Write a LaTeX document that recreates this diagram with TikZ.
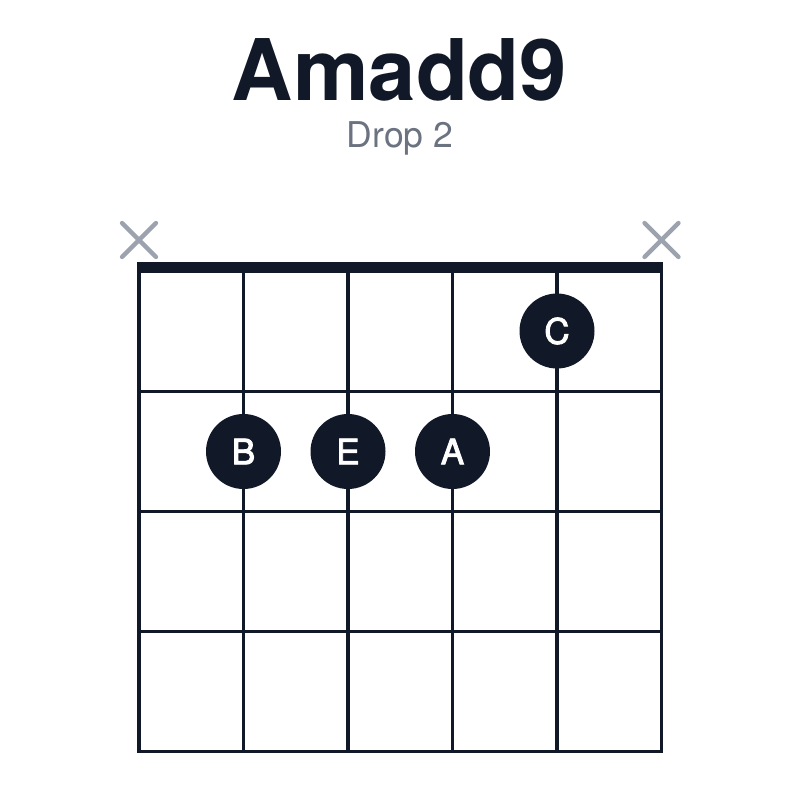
\documentclass[tikz,border=0pt]{standalone}
\usepackage{fontspec}
\setmainfont{TeX Gyre Heros}
\newfontfamily\dotfont[FakeBold=2.6]{TeX Gyre Heros}
\definecolor{ink}{HTML}{111827}
\definecolor{subgray}{HTML}{6B7280}
\definecolor{mutegray}{HTML}{9CA3AF}
\begin{document}
\begin{tikzpicture}[x=1pt,y=-1pt,
  gridline/.style={draw=ink,line width=3.2pt},
  nutline/.style={draw=ink,line width=11pt},
  fingerdot/.style={circle,fill=ink,minimum size=75pt,inner sep=0pt,text=white,font=\fontsize{35}{35}\selectfont\dotfont},
  mutemark/.style={draw=mutegray,line width=4.3pt,line cap=round},
  titletext/.style={font=\fontsize{85}{85}\selectfont\bfseries,text=ink,inner sep=0pt},
  subtext/.style={font=\fontsize{35.5}{35.5}\selectfont,text=subgray,inner sep=0pt}]
\useasboundingbox (0,0) rectangle (800,800);
\fill[white] (0,0) rectangle (800,800);
% titles
\node[titletext,anchor=base] (title) at (399.5,100) {Amadd9};
\node[subtext,anchor=base] (sub) at (400,147) {Drop 2};
% strings
\foreach \i/\x in {1/139,2/243.5,3/348,4/452.5,5/557,6/661.5} {
  \coordinate (s\i top) at (\x,268);
  \coordinate (s\i bot) at (\x,751.5);
  \draw[gridline] (s\i top) -- (s\i bot);
}
% frets
\foreach \j/\y in {1/391.5,2/511.5,3/631.5,4/751.5} {
  \coordinate (f\j l) at (137.4,\y);
  \coordinate (f\j r) at (663.1,\y);
  \draw[gridline] (f\j l) -- (f\j r);
}
% nut
\coordinate (nutl) at (137.4,267.5);
\coordinate (nutr) at (663.1,267.5);
\draw[nutline] (nutl) -- (nutr);
% mute marks
\foreach \n/\x in {m1/139,m6/661.5} {
  \coordinate (\n a) at (\x-17,223);
  \coordinate (\n b) at (\x+17,257);
  \coordinate (\n c) at (\x-17,257);
  \coordinate (\n d) at (\x+17,223);
  \draw[mutemark] (\n a) -- (\n b);
  \draw[mutemark] (\n c) -- (\n d);
}
% finger dots
\node[fingerdot] (dC) at (557,331) {C};
\node[fingerdot] (dB) at (243.5,451.5) {B};
\node[fingerdot] (dE) at (348,451.5) {E};
\node[fingerdot] (dA) at (452.5,451.5) {A};
\end{tikzpicture}
\end{document}
